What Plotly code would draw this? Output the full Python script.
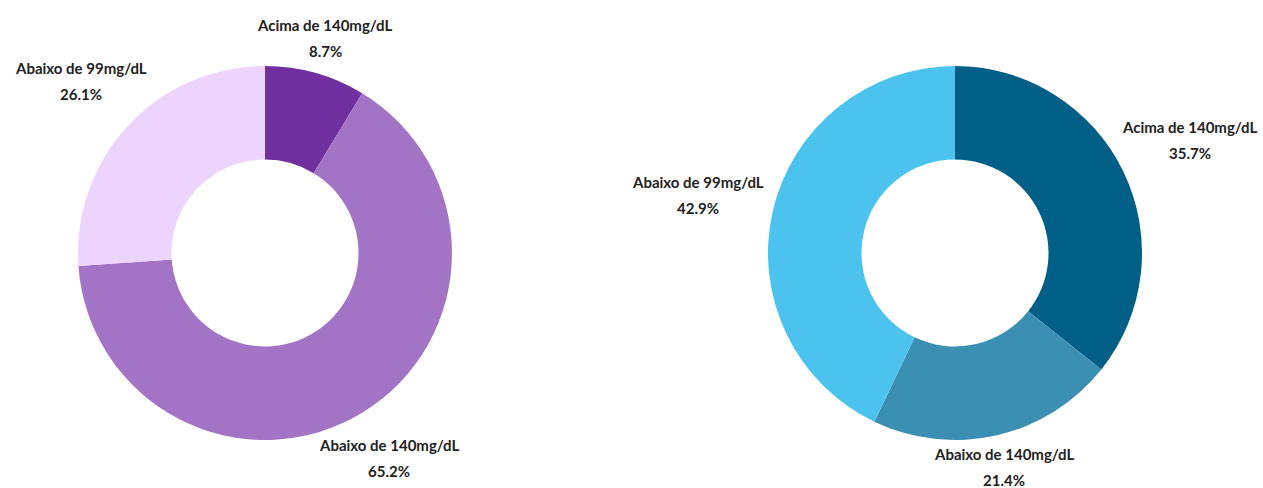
import math
import plotly.graph_objects as go

W, H = 1263, 488

# Glucose ranges, in drawing order (clockwise from 12 o'clock)
categories = ["Acima de 140mg/dL", "Abaixo de 140mg/dL", "Abaixo de 99mg/dL"]
left_pct = [8.7, 65.2, 26.1]
right_pct = [35.7, 21.4, 42.9]

left_colors = ["#7030a0", "#a374c6", "#ecd4fc"]
right_colors = ["#005f87", "#3a8fb2", "#4cc2ee"]

FONT = "Lato"
TEXT_COLOR = "#222222"

# Pie geometry in pixels
R = 187
centers = [(265, 253), (955, 253)]


def domain_for(cx, cy):
    return dict(
        x=[(cx - R) / W, (cx + R) / W],
        y=[1 - (cy + R) / H, 1 - (cy - R) / H],
    )


fig = go.Figure()
annotations = []

for (cx, cy), values, colors in zip(centers, [left_pct, right_pct], [left_colors, right_colors]):
    fig.add_trace(go.Pie(
        labels=categories,
        values=values,
        hole=0.5,
        sort=False,
        direction="clockwise",
        rotation=0,
        textinfo="none",
        hoverinfo="label+percent",
        marker=dict(colors=colors, line=dict(width=0)),
        domain=domain_for(cx, cy),
        showlegend=False,
    ))

    # Outside labels placed along each slice's mid-angle
    total = sum(values)
    acc = 0.0
    half_w, half_h, gap = 72, 14, 3
    for label, v in zip(categories, values):
        mid = (acc + v / 2) / total * 2 * math.pi
        acc += v
        dx, dy = math.sin(mid), -math.cos(mid)
        dist = R + gap + half_w * abs(dx) + half_h * abs(dy)
        lx, ly = cx + dist * dx, cy + dist * dy
        for text, off in ((f"<b>{label}</b>", -13), (f"<b>{v:.1f}%</b>", 13)):
            annotations.append(dict(
                x=lx / W, y=1 - (ly + off) / H,
                xref="paper", yref="paper",
                text=text, showarrow=False,
                xanchor="center", yanchor="middle",
                font=dict(family=FONT, size=15, color=TEXT_COLOR),
            ))

fig.update_layout(
    width=W, height=H,
    margin=dict(l=0, r=0, t=0, b=0),
    paper_bgcolor="white",
    plot_bgcolor="white",
    annotations=annotations,
)

fig.write_html("out.html")
